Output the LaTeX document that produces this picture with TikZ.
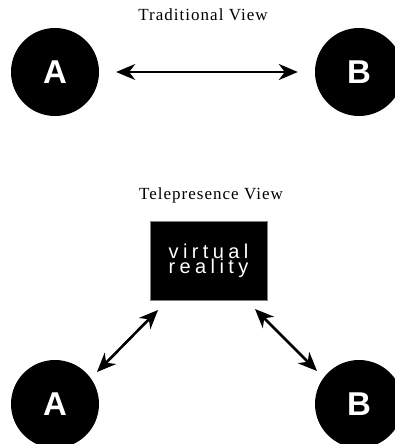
\documentclass[tikz,border=0pt]{standalone}
\usepackage{fontspec}
\setmainfont{Liberation Serif}
\newfontfamily\titlefont[LetterSpace=6]{Liberation Serif}
\newfontfamily\lettersans{Liberation Sans}
\newfontfamily\vrfont[LetterSpace=22]{Liberation Sans}
\usetikzlibrary{arrows.meta}
\begin{document}
\begin{tikzpicture}[x=1pt,y=-1pt,
  party/.style={circle,fill=black,minimum size=88pt,inner sep=0pt,text=white,
    font=\lettersans\bfseries\fontsize{33}{33}\selectfont},
  viewtitle/.style={font=\titlefont\fontsize{17}{17}\selectfont,inner sep=0pt},
  vrbox/.style={rectangle,fill=black,draw=gray,line width=0.8pt,minimum width=117pt,
    minimum height=79pt,inner sep=0pt,text=white,align=center,
    font=\vrfont\fontsize{20}{15}\selectfont},
  link/.style={line width=2.6pt,{Stealth[length=19pt,width=16pt,inset=6pt]}-{Stealth[length=19pt,width=16pt,inset=6pt]}}]
\useasboundingbox (0,0) rectangle (394,444);
% traditional view
\node[viewtitle] (t1) at (203,15) {Traditional View};
\node[party] (A1) at (55,72) {A};
\node[party] (B1) at (359,72) {B};
\draw[link,shorten <=17pt,shorten >=17pt] (A1) -- (B1);
% telepresence view
\node[viewtitle] (t2) at (211,195) {Telepresence View};
\node[vrbox] (vr) at (208.5,260.5) {virtual\\reality};
\node[party] (A2) at (55,404) {A};
\node[party] (B2) at (359,404) {B};
\coordinate (a2s) at (97,372);
\coordinate (a2e) at (158,310);
\coordinate (b2s) at (255,309);
\coordinate (b2e) at (317,371);
\draw[link] (a2s) -- (a2e);
\draw[link] (b2s) -- (b2e);
\end{tikzpicture}
\end{document}
